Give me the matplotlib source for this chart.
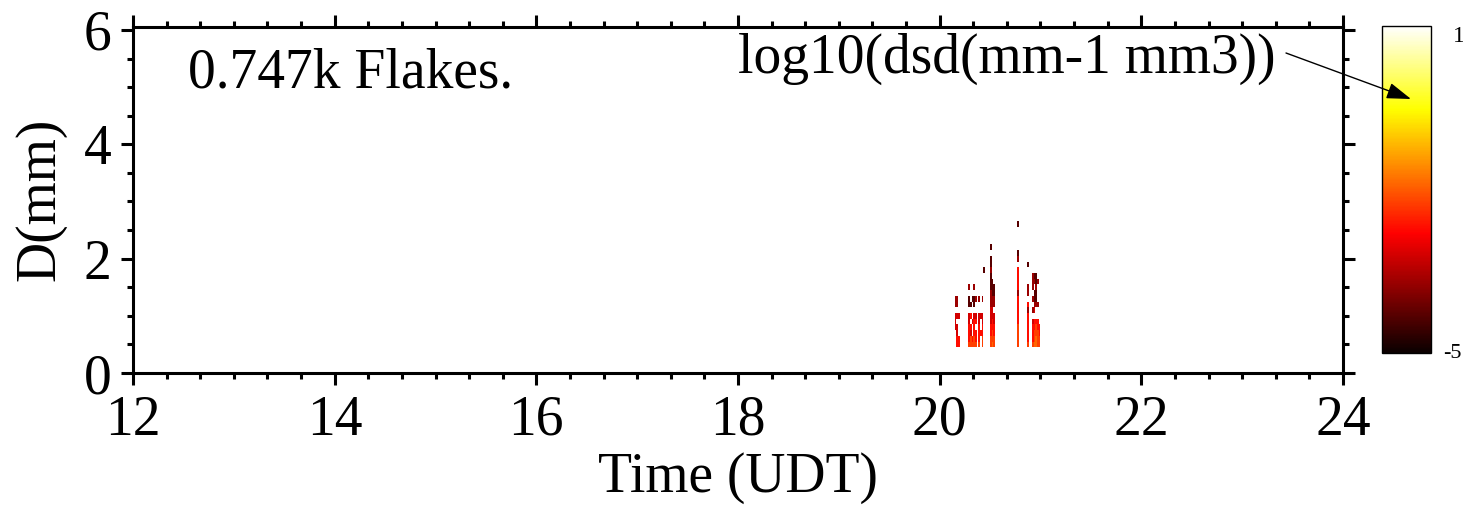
import numpy as np
import matplotlib
matplotlib.use('Agg')
import matplotlib.pyplot as plt

plt.rcParams['font.family'] = ['Liberation Serif', 'DejaVu Serif']

# ---- data ----
# time bins: 1 minute, minutes after 20:00 UT
col_minutes = [9, 10, 11, 17, 18, 19, 20, 21, 23, 24, 25, 26,
               30, 31, 32, 46, 52, 55, 56, 57, 58, 59]
# one character per diameter bin, D = 0.5, 0.6, ... 2.6 mm ('.' = no flakes)
col_codes = [
    "...ccc.bb",
    "ddcc.c.bb",
    "dd...c",
    "edddcc.aa.b",
    "eecd.d.a",
    "ed..c...a",
    "eedddc.aa.b",
    "edd.dc..b",
    "edddcc..b",
    "..d..c",
    "eeddcc..b",
    ".............a",
    "eeddcccbbbaaabaa.a",
    "feeddccbbaaa",
    "eeddcc.bbaa",
    "eeeedddddbdddd.ba....a",
    "edddddbd.bb...a",
    "edddc.b.b.bbb",
    "feedd.cbaa.ba",
    "ffeed..baabaa",
    "eeedd..b...b",
    "eedd",
]
# log10(dsd) value for each code
levels = {'a': -4.3, 'b': -3.7, 'c': -3.2, 'd': -2.7, 'e': -2.25, 'f': -1.9}

d_centers = np.round(np.arange(0.5, 2.65, 0.1), 2)
n_flakes = 0.747  # thousands
x_ticks = [12, 14, 16, 18, 20, 22, 24]
y_ticks = [0, 2, 4, 6]

# build grid
minute_bins = np.arange(9, 60)
grid = np.full((len(d_centers), len(minute_bins)), np.nan)
for m, codes in zip(col_minutes, col_codes):
    j = m - minute_bins[0]
    for i, ch in enumerate(codes):
        if ch != '.':
            grid[i, j] = levels[ch]
grid = np.ma.masked_invalid(grid)

t_edges = 20 + np.arange(minute_bins[0], minute_bins[-1] + 2) / 60.0
d_edges = np.concatenate([d_centers - 0.05, [d_centers[-1] + 0.05]])

W, H = 1463, 517
fig = plt.figure(figsize=(W / 100, H / 100), dpi=100)
ax = fig.add_axes([133 / W, 1 - 373 / H, 1210 / W, 346.5 / H])

mesh = ax.pcolormesh(t_edges, d_edges, grid, cmap='hot', vmin=-5, vmax=1,
                     shading='flat')

ax.set_xlim(12, 24)
ax.set_ylim(0, 6.06)
ax.set_xticks(x_ticks)
ax.set_yticks(y_ticks)
ax.set_xticks(np.arange(12, 24.01, 1 / 3), minor=True)
ax.set_yticks(np.arange(0, 6.01, 0.5), minor=True)
ax.tick_params(which='both', direction='out', top=True, right=True,
               labelsize=40, width=2.2, pad=7)
ax.tick_params(which='major', length=8.6)
ax.tick_params(which='minor', length=4.3)
for s in ax.spines.values():
    s.set_linewidth(2.2)

ax.set_xlabel('Time (UDT)', fontsize=40, labelpad=4)
ax.set_ylabel('D(mm)', fontsize=40, labelpad=12)

ax.text(55 / 1210, (373 - 87) / 346.5, f'{n_flakes}k Flakes.', transform=ax.transAxes,
        fontsize=40, va='baseline', ha='left')
ax.text((1276 - 133) / 1210, (373 - 73) / 346.5, 'log10(dsd(mm-1 mm3))',
        transform=ax.transAxes, fontsize=40, va='baseline', ha='right')

# colorbar
cax = fig.add_axes([1382 / W, 1 - 353 / H, 49 / W, 327.3 / H])
cb = fig.colorbar(mesh, cax=cax)
cb.set_ticks([])
cb.outline.set_linewidth(1)
cax.text(1.45, 1.0, '1', transform=cax.transAxes, fontsize=17, va='top', ha='left')
cax.text(1.25, 0.0, '-5', transform=cax.transAxes, fontsize=16, va='center', ha='left')

# arrow from the label into the colour bar (drawn on top of the bar)
cax.annotate('', xy=(1411 / W, 1 - 99 / H), xytext=(1286 / W, 1 - 53 / H),
             xycoords='figure fraction', textcoords='figure fraction',
             arrowprops=dict(arrowstyle='-|>,head_length=0.75,head_width=0.25',
                             mutation_scale=20, lw=1, color='black',
                             shrinkA=0, shrinkB=0),
             annotation_clip=False)

fig.savefig('out.png', dpi=100)
